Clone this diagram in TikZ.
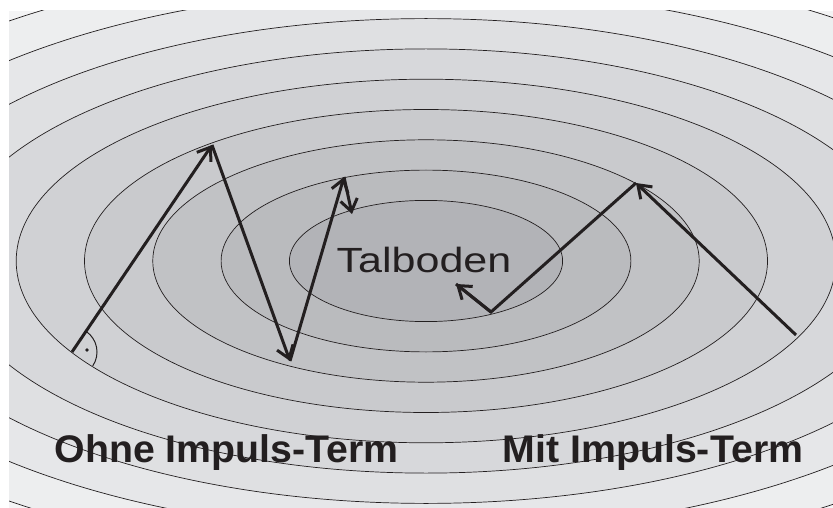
\documentclass[tikz,border=0pt]{standalone}
\usepackage{fontspec}
\setmainfont{Liberation Sans}
\usetikzlibrary{arrows.meta}
\definecolor{ink}{HTML}{231F20}
\definecolor{c0}{HTML}{F4F4F5}
\tikzset{
  contour/.style={draw=ink, line width=0.7pt},
  arr/.style={draw=ink, line width=3pt, -{Straight Barb[length=12pt,width=17pt]}},
  seg/.style={draw=ink, line width=3pt},
  lbl/.style={text=ink, inner sep=0pt, anchor=base},
}
\begin{document}
\begin{tikzpicture}[x=1pt,y=-1pt]
\useasboundingbox (0,0) rectangle (833,508);
\fill[white] (0,0) rectangle (833,508);
\begin{scope}
\clip (9,11) rectangle (833,508);
\fill[c0] (9,11) rectangle (833,508);
\foreach \k/\c in {10/EDEEEF,9/E6E7E9,8/DFE0E2,7/D7D8DB,6/D0D1D4,5/C9CACD,4/C1C2C5,3/BABBBE,2/B2B3B7}{
  \definecolor{tmp}{HTML}{\c}
  \filldraw[contour, fill=tmp] (426,261) ellipse [x radius={68.3pt*\k}, y radius={30.3pt*\k}];
}
\end{scope}
% labels
\node[lbl] (tal) at (424,272) {\fontsize{35}{40}\selectfont\scalebox{1.23}[1]{Talboden}};
\node[lbl] (ohne) at (226.5,462) {\fontsize{38.5}{44}\selectfont\bfseries\scalebox{1.02}[1]{Ohne Impuls-Term}};
\node[lbl] (mit) at (653,462) {\fontsize{38.5}{44}\selectfont\bfseries\scalebox{1.02}[1]{Mit Impuls-Term}};
% path without momentum
\coordinate (p0) at (72,352);
\coordinate (p1) at (212,145);
\coordinate (p2) at (290,361);
\coordinate (p3) at (344,177);
\coordinate (p4) at (352,214);
\draw[arr] (p0) -- (p1);
\draw[arr] (p1) -- (p2);
\draw[arr] (p2) -- (p3);
\draw[arr] (p3) -- (p4);
% right angle marker
\draw[draw=ink, line width=1pt] (p0) ++(-56:25) arc[start angle=-56, end angle=34, radius=25];
\fill[ink] (87,350) circle (1.8pt);
% path with momentum
\coordinate (q0) at (796,335);
\coordinate (q1) at (636,183);
\coordinate (q2) at (491,312);
\coordinate (q3) at (456,284);
\draw[arr] (q0) -- (q1);
\draw[seg, line join=miter] (q1) -- (q2) -- (q3);
\draw[arr] (q2) -- (q3);
\end{tikzpicture}
\end{document}
